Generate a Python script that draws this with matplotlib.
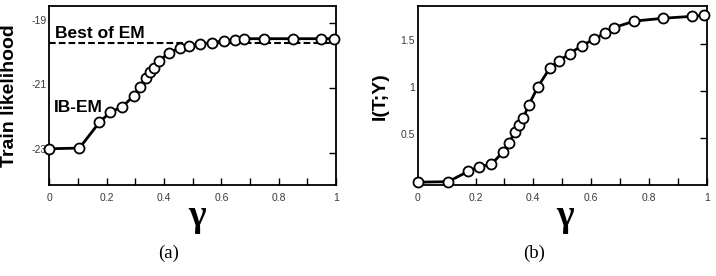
import matplotlib
matplotlib.use("Agg")
import matplotlib.pyplot as plt
from matplotlib.transforms import ScaledTranslation

gamma = [0, 0.105, 0.175, 0.213, 0.255, 0.295, 0.316, 0.336, 0.351, 0.365, 0.384, 0.416, 0.457, 0.489, 0.526, 0.568, 0.609, 0.649, 0.678, 0.75, 0.85, 0.948, 0.992]
train_ll = [-22.88, -22.86, -22.06, -21.75, -21.58, -21.24, -20.97, -20.70, -20.50, -20.37, -20.17, -19.92, -19.76, -19.70, -19.65, -19.60, -19.55, -19.52, -19.48, -19.48, -19.48, -19.48, -19.48]
info_ty = [0.03, 0.035, 0.145, 0.195, 0.22, 0.35, 0.447, 0.563, 0.64, 0.71, 0.847, 1.043, 1.24, 1.317, 1.395, 1.48, 1.545, 1.615, 1.67, 1.74, 1.77, 1.79, 1.80]
best_em = -19.62

x_ticks = [0, 0.2, 0.4, 0.6, 0.8, 1]
x_tick_labels = ["0", "0.2", "0.4", "0.6", "0.8", "1"]
x_minor = [0.1, 0.3, 0.5, 0.7, 0.9]
left_yticks = [-19, -21, -23]
left_ytick_labels = ["-19", "-21", "-23"]
right_yticks = [0.5, 1, 1.5]
right_ytick_labels = ["0.5", "1", "1.5"]

W, H = 716, 276
fig = plt.figure(figsize=(W / 100, H / 100), dpi=100)

def fx(px):
    return px / W

def fy(py):
    return 1 - py / H

ax1 = fig.add_axes([fx(49.3), fy(185), fx(336) - fx(49.3), fy(6) - fy(185)])
ax2 = fig.add_axes([fx(417.7), fy(185), fx(706.7) - fx(417.7), fy(6) - fy(185)])

sans = ["Liberation Sans", "DejaVu Sans"]
serif = ["Liberation Serif", "DejaVu Serif"]
tick_color = "#3a3a3a"

line_kw = dict(color="black", lw=2.0, marker="o", markersize=7.2,
               markerfacecolor="white", markeredgecolor="black",
               markeredgewidth=1.3, clip_on=False, zorder=5)

ax1.axhline(best_em, color="black", lw=1.5, dashes=(3.2, 1.5), zorder=3)
ax1.plot(gamma, train_ll, **line_kw)
ax1.set_ylim(-24.0, -18.47)
ax1.set_yticks(left_yticks)
ax1.set_yticklabels(left_ytick_labels)
ax1.text(0.02, 0.82, "Best of EM", transform=ax1.transAxes, fontsize=12.5,
         fontweight="bold", family=sans, va="baseline", ha="left")
ax1.text(0.017, 0.41, "IB-EM", transform=ax1.transAxes, fontsize=12.5,
         fontweight="bold", family=sans, va="baseline", ha="left")

ax2.plot(gamma, info_ty, **line_kw)
ax2.set_ylim(0, 1.9)
ax2.set_yticks(right_yticks)
ax2.set_yticklabels(right_ytick_labels)

for ax in (ax1, ax2):
    ax.set_xlim(0, 1)
    ax.set_xticks(x_ticks)
    ax.set_xticklabels(x_tick_labels)
    ax.set_xticks(x_minor, minor=True)
    ax.tick_params(axis="x", which="both", direction="in", length=5, width=1,
                   top=False, bottom=True, pad=6, labelsize=7.5, labelcolor=tick_color)
    ax.tick_params(axis="y", which="both", direction="in", length=5, width=1,
                   left=False, right=True, labelleft=True, pad=2,
                   labelsize=7.5, labelcolor=tick_color)
    for lab in ax.get_xticklabels() + ax.get_yticklabels():
        lab.set_family(sans)
    for lab in ax.get_yticklabels():
        lab.set_transform(lab.get_transform() + ScaledTranslation(0, 2.5 / 72, fig.dpi_scale_trans))
    for s in ax.spines.values():
        s.set_linewidth(1.3)

fig.text(fx(10), fy(96), "Train likelihood", rotation=90, fontsize=14,
         fontweight="bold", family=sans, ha="center", va="center")
fig.text(fx(380), fy(96), "I(T;Y)", rotation=90, fontsize=14,
         fontweight="bold", family=sans, ha="center", va="center")

for cx in (197.5, 565):
    fig.text(fx(cx), fy(217), "γ", fontsize=27, fontweight="bold",
             family=serif, ha="center", va="center")

fig.text(fx(168.7), fy(253), "(a)", fontsize=13.5, family=serif, ha="center", va="center")
fig.text(fx(534), fy(253), "(b)", fontsize=13.5, family=serif, ha="center", va="center")

fig.savefig("out.png", dpi=100)
